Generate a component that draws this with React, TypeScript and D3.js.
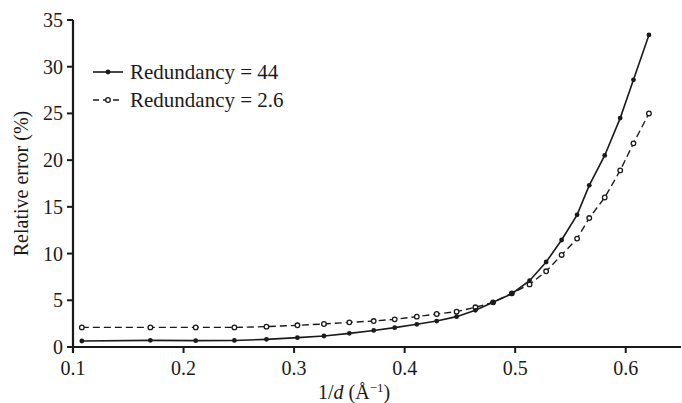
import React from "react";
import * as d3 from "d3";

const invD = [0.108, 0.17, 0.211, 0.246, 0.275, 0.303, 0.327, 0.35, 0.372, 0.391, 0.411, 0.429, 0.447, 0.464, 0.48, 0.497, 0.513, 0.528, 0.542, 0.556, 0.567, 0.581, 0.595, 0.607, 0.621];
const errR44 = [0.64, 0.71, 0.68, 0.7, 0.82, 1.0, 1.18, 1.46, 1.77, 2.07, 2.43, 2.78, 3.25, 3.93, 4.78, 5.7, 7.1, 9.1, 11.45, 14.15, 17.3, 20.5, 24.5, 28.6, 33.4];
const errR26 = [2.1, 2.1, 2.1, 2.1, 2.18, 2.32, 2.46, 2.64, 2.78, 2.96, 3.25, 3.53, 3.78, 4.25, 4.78, 5.74, 6.7, 8.1, 9.85, 11.6, 13.8, 16.0, 18.9, 21.8, 25.0];
const xTicks = [0.1, 0.2, 0.3, 0.4, 0.5, 0.6];
const yTicks = [0, 5, 10, 15, 20, 25, 30, 35];
const seriesNames = ["Redundancy = 44", "Redundancy = 2.6"];

const W = 682, H = 403;
const FONT = "'Liberation Serif', 'Times New Roman', serif";
const INK = "#1a1a1a";

export default function App() {
  const x = d3.scaleLinear().domain([0.1, 0.65]).range([73, 681]);
  const y = d3.scaleLinear().domain([0, 35]).range([347, 20]);
  const line = d3.line<[number, number]>().x(d => x(d[0])).y(d => y(d[1]));
  const s1: [number, number][] = invD.map((v, i) => [v, errR44[i]]);
  const s2: [number, number][] = invD.map((v, i) => [v, errR26[i]]);
  const [x0, x1] = x.range();
  const [y0, y1] = y.range();
  return (
    <svg width={W} height={H} style={{ position: "absolute", left: 0, top: 0, background: "#fff" }} fontFamily={FONT}>
      {/* axes */}
      <line x1={x0 - 6} x2={x1} y1={y0} y2={y0} stroke={INK} strokeWidth={2.2} />
      <line x1={x0} x2={x0} y1={y1} y2={y0 + 6} stroke={INK} strokeWidth={2.2} />
      {xTicks.map(t => (
        <g key={"x" + t}>
          <line x1={x(t)} x2={x(t)} y1={y0} y2={y0 + 6} stroke={INK} strokeWidth={2} />
          <text x={x(t)} y={y0 + 28} textAnchor="middle" fontSize={20} fill={INK}>{t.toFixed(1)}</text>
        </g>
      ))}
      {yTicks.map(t => (
        <g key={"y" + t}>
          <line x1={x0 - 6} x2={x0} y1={y(t)} y2={y(t)} stroke={INK} strokeWidth={2} />
          <text x={x0 - 10} y={y(t) + 7} textAnchor="end" fontSize={20} fill={INK}>{t}</text>
        </g>
      ))}
      <text transform={`translate(28, ${(y0 + y1) / 2}) rotate(-90)`} textAnchor="middle" fontSize={20} fill={INK}>Relative error (%)</text>
      <text x={318} y={399} fontSize={20} fill={INK}>1/<tspan fontStyle="italic">d</tspan> (Å<tspan dy={-7} fontSize={13}>−1</tspan><tspan dy={7}>)</tspan></text>

      {/* series */}
      <path d={line(s2) || ""} fill="none" stroke={INK} strokeWidth={1.4} strokeDasharray="7,4" />
      <path d={line(s1) || ""} fill="none" stroke={INK} strokeWidth={1.6} />
      {s2.map((d, i) => (
        <circle key={"b" + i} cx={x(d[0])} cy={y(d[1])} r={2.3} fill="#fff" stroke={INK} strokeWidth={1.3} />
      ))}
      {s1.map((d, i) => (
        <circle key={"a" + i} cx={x(d[0])} cy={y(d[1])} r={2.4} fill={INK} />
      ))}

      {/* legend */}
      <line x1={93} x2={123} y1={72} y2={72} stroke={INK} strokeWidth={1.6} />
      <circle cx={108} cy={72} r={2.4} fill={INK} />
      <text x={130} y={79} fontSize={21} fill={INK}>{seriesNames[0]}</text>
      <line x1={93} x2={123} y1={100} y2={100} stroke={INK} strokeWidth={1.4} strokeDasharray="6,4" />
      <circle cx={108} cy={100} r={2.3} fill="#fff" stroke={INK} strokeWidth={1.3} />
      <text x={130} y={107} fontSize={21} fill={INK}>{seriesNames[1]}</text>
    </svg>
  );
}
